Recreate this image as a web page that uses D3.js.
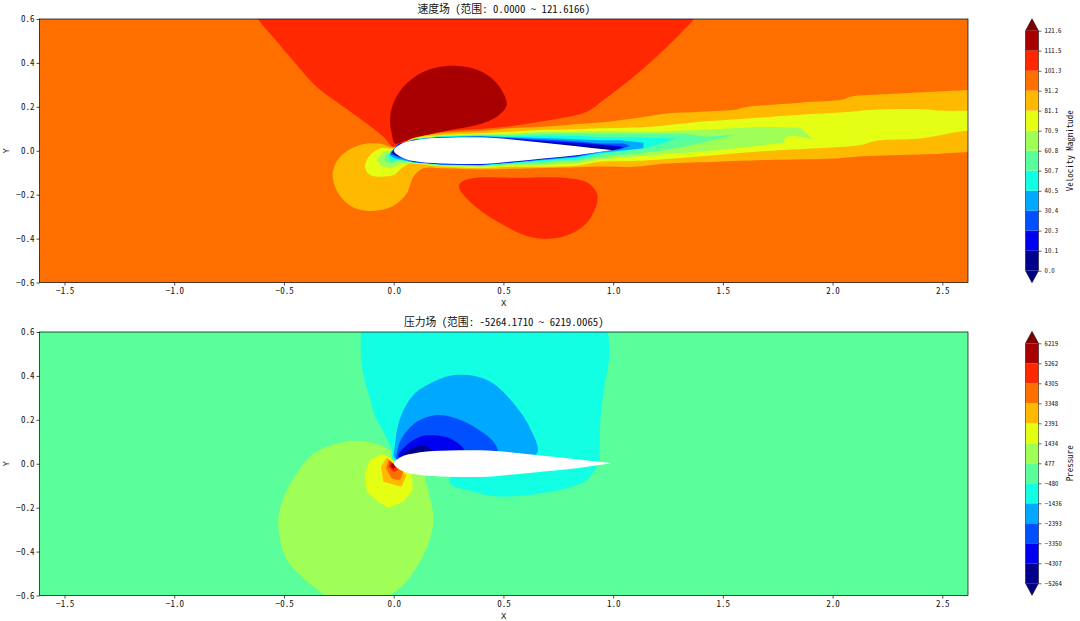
<!DOCTYPE html>
<html>
<head>
<meta charset="utf-8">
<script src="https://cdn.jsdelivr.net/npm/d3@7"></script>
<style>
    body { margin: 0; background: #fff; }
    text { font-family: "Noto Sans Mono CJK SC", "Noto Sans CJK SC", "DejaVu Sans Mono", monospace; fill: #111; }
    .axis-letter { font-family: "Liberation Mono", monospace; }
</style>
</head>
<body>
<svg id="chart-svg" width="1080" height="621"></svg>
<script>
// Band colours, low to high, shared by both fields and their colorbars
const bandColors = ["#00008d", "#0000f1", "#0050ff", "#00a8ff", "#13ffe3", "#5aff9b", "#9fff57", "#e4ff13", "#ffb900", "#ff6f00", "#ff2800", "#a80000"];
const overColor = "#7f0000";
const underColor = "#00007f";

// Axis ticks
const xTicks = [-1.5, -1.0, -0.5, 0.0, 0.5, 1.0, 1.5, 2.0, 2.5];
const yTicks = [-0.6, -0.4, -0.2, 0.0, 0.2, 0.4, 0.6];

// Colorbar levels and their printed labels
const speedLevels = [0.0, 10.1, 20.3, 30.4, 40.5, 50.7, 60.8, 70.9, 81.1, 91.2, 101.3, 111.5, 121.6];
const speedLabels = ["0.0", "10.1", "20.3", "30.4", "40.5", "50.7", "60.8", "70.9", "81.1", "91.2", "101.3", "111.5", "121.6"];
const pressureLevels = [-5264, -4307, -3350, -2393, -1436, -480, 477, 1434, 2391, 3348, 4305, 5262, 6219];
const pressureLabels = ["\u22125264", "\u22124307", "\u22123350", "\u22122393", "\u22121436", "\u2212480", "477", "1434", "2391", "3348", "4305", "5262", "6219"];

// Airfoil outline
const foilX = [0, 0.005, 0.012, 0.029, 0.09, 0.211, 0.3, 0.394, 0.53, 0.683, 0.834, 0.992];
const foilUpper = [0, 0.01, 0.017, 0.029, 0.047, 0.059, 0.0615, 0.061, 0.052, 0.036, 0.021, 0.003];
const foilLower = [0, -0.009, -0.015, -0.026, -0.047, -0.058, -0.06, -0.06, -0.05, -0.035, -0.02, 0.002];

// Velocity field regions in x,y data units
const speedRedTop = [[-0.63, 0.62], [-0.617, 0.598], [-0.564, 0.534], [-0.473, 0.428], [-0.351, 0.291], [-0.229, 0.2], [-0.123, 0.124], [-0.047, 0.064], [0, 0.018], [0.074, 0.06], [0.166, 0.078], [0.257, 0.09], [0.5, 0.108], [0.713, 0.14], [0.88, 0.178], [0.956, 0.231], [1.093, 0.337], [1.245, 0.473], [1.366, 0.598], [1.38, 0.62]];
const speedRedBottom = [[0.298, -0.156], [0.318, -0.137], [0.378, -0.123], [0.561, -0.123], [0.774, -0.123], [0.88, -0.144], [0.926, -0.194], [0.926, -0.24], [0.895, -0.308], [0.85, -0.354], [0.774, -0.391], [0.698, -0.401], [0.606, -0.388], [0.515, -0.346], [0.424, -0.293], [0.348, -0.232], [0.302, -0.179]];
const speedDarkRed = [[0.006, 0.033], [-0.009, 0.079], [-0.017, 0.14], [-0.002, 0.215], [0.044, 0.291], [0.12, 0.352], [0.196, 0.379], [0.272, 0.387], [0.363, 0.375], [0.439, 0.337], [0.492, 0.276], [0.515, 0.208], [0.47, 0.155], [0.378, 0.117], [0.257, 0.094], [0.135, 0.067], [0.044, 0.041]];

const speedAmber = [[0, 0.016], [0.09, 0.058], [0.211, 0.08], [0.394, 0.09], [0.53, 0.103], [0.683, 0.109], [0.834, 0.122], [0.941, 0.129], [1.093, 0.147], [1.245, 0.17], [1.397, 0.178], [1.564, 0.188], [1.594, 0.197], [1.852, 0.219], [2.05, 0.234], [2.08, 0.246], [2.308, 0.261], [2.64, 0.278], [2.9, 0.29],
    [2.9, -0.02], [2.64, -0.005], [2.46, -0.015], [2.156, -0.024], [2.005, -0.035], [1.701, -0.042], [1.473, -0.05], [1.245, -0.058], [1.093, -0.073], [0.941, -0.072], [0.834, -0.075], [0.683, -0.078], [0.53, -0.082], [0.394, -0.085], [0.211, -0.08], [0.135, -0.08],
    [0.09, -0.118], [0.06, -0.194], [0.015, -0.24], [-0.047, -0.268], [-0.123, -0.273], [-0.199, -0.25], [-0.26, -0.18], [-0.278, -0.103], [-0.245, -0.028], [-0.154, 0.026], [-0.06, 0.032]];
const speedYellow = [[0, 0.011], [0.09, 0.056], [0.211, 0.071], [0.394, 0.08], [0.53, 0.087], [0.683, 0.094], [0.834, 0.098], [0.941, 0.102], [1.169, 0.109], [1.397, 0.132], [1.564, 0.143], [1.822, 0.162], [2.08, 0.178], [2.156, 0.185], [2.384, 0.19], [2.506, 0.182], [2.64, 0.182], [2.9, 0.182],
    [2.9, 0.06], [2.64, 0.092], [2.4, 0.056], [2.2, 0.046], [2.126, 0.026], [1.928, 0.011], [1.777, 0.003], [1.549, -0.012], [1.32, -0.032], [1.093, -0.047], [0.941, -0.05], [0.834, -0.068], [0.683, -0.073], [0.53, -0.073], [0.394, -0.079], [0.211, -0.072], [0.12, -0.062],
    [0.074, -0.058], [0.036, -0.08], [0, -0.111], [-0.055, -0.118], [-0.108, -0.111], [-0.131, -0.073], [-0.108, -0.02], [-0.062, 0.011]];
const speedGreen = [[-0.009, 0.003], [0.09, 0.054], [0.211, 0.068], [0.394, 0.075], [0.53, 0.079], [0.683, 0.086], [0.834, 0.088], [0.941, 0.09], [1.169, 0.087], [1.397, 0.094], [1.67, 0.109], [1.852, 0.105], [1.91, 0.052], [1.815, 0.071], [1.78, 0.056], [1.78, 0.038], [1.625, 0.018], [1.397, -0.005], [1.245, -0.015], [1.093, -0.027], [0.941, -0.04], [0.834, -0.058], [0.683, -0.065], [0.53, -0.067], [0.394, -0.074], [0.211, -0.068], [0.09, -0.056],
    [0.036, -0.058], [-0.009, -0.08], [-0.055, -0.073], [-0.078, -0.042], [-0.047, -0.005]];
const speedGreenSliver = [[1.928, 0.056], [2.035, 0.071], [1.997, 0.076]];
const speedMint = [[-0.009, -0.005], [0.09, 0.053], [0.211, 0.066], [0.394, 0.072], [0.53, 0.072], [0.683, 0.078], [0.834, 0.08], [0.941, 0.078], [1.169, 0.079], [1.32, 0.079], [1.427, 0.064], [1.564, 0.074], [1.457, 0.049], [1.32, 0.018], [1.214, 0], [1.093, -0.015], [0.941, -0.028], [0.834, -0.047], [0.683, -0.055], [0.53, -0.062], [0.394, -0.07], [0.211, -0.066], [0.09, -0.054],
    [0.029, -0.046], [-0.009, -0.058], [-0.04, -0.05], [-0.04, -0.02]];
const speedCyan = [[-0.009, -0.005], [0.09, 0.052], [0.211, 0.065], [0.394, 0.069], [0.53, 0.066], [0.683, 0.07], [0.834, 0.068], [0.941, 0.062], [1.093, 0.061], [1.29, 0.056], [1.2, 0.026], [1.138, 0.011], [0.941, -0.016], [0.834, -0.04], [0.683, -0.047], [0.53, -0.059], [0.394, -0.068], [0.211, -0.064], [0.09, -0.053],
    [0.021, -0.04], [-0.009, -0.046], [-0.024, -0.027]];
const speedSky = [[-0.009, -0.005], [0.09, 0.051], [0.211, 0.063], [0.394, 0.067], [0.53, 0.062], [0.683, 0.058], [0.834, 0.052], [0.941, 0.048], [1.03, 0.048], [1.138, 0.036], [1.138, 0.011], [1.03, 0], [0.941, -0.009], [0.834, -0.03], [0.683, -0.042], [0.53, -0.056], [0.394, -0.066], [0.211, -0.063], [0.09, -0.052],
    [0.006, -0.035], [-0.02, -0.02]];
const speedBlue = [[-0.012, -0.006], [0.02, 0.03], [0.09, 0.05], [0.211, 0.062], [0.394, 0.065], [0.53, 0.059], [0.683, 0.051], [0.834, 0.043], [0.941, 0.033], [1.047, 0.033], [1.077, 0.023], [1.03, 0.006], [0.941, -0.005], [0.834, -0.026], [0.683, -0.04], [0.53, -0.054], [0.394, -0.065], [0.211, -0.062], [0.09, -0.051], [0.02, -0.03], [-0.015, -0.015]];
const speedDeepBlue = [[0.025, 0.032], [0.09, 0.049], [0.211, 0.061], [0.394, 0.063], [0.53, 0.056], [0.683, 0.046], [0.834, 0.036], [0.941, 0.028], [1.03, 0.02], [1.05, 0.015], [1.02, 0.008], [0.95, 0], [0.834, -0.024], [0.683, -0.038], [0.53, -0.053], [0.394, -0.064], [0.211, -0.061], [0.09, -0.05], [0.01, -0.022], [-0.008, -0.01]];
const speedNavy = [[0.6, 0.044], [0.683, 0.04], [0.834, 0.027], [0.941, 0.02], [1.04, 0.014], [1.0, 0.003], [0.941, -0.004], [0.834, -0.021], [0.683, -0.036], [0.6, -0.043]];
const speedNavyNose = [[0, 0.003], [-0.008, -0.008], [0.005, -0.018], [0.02, -0.026], [0.012, -0.012]];

// Pressure field regions
const pressureCyan = [[-0.149, 0.75], [-0.149, 0.62], [-0.149, 0.48], [-0.131, 0.373], [-0.108, 0.297], [-0.085, 0.214], [-0.047, 0.146], [-0.009, 0.062], [0, 0.009], [0.257, -0.04], [0.257, -0.09], [0.363, -0.127], [0.47, -0.149], [0.637, -0.14], [0.789, -0.112], [0.88, -0.074], [0.926, -0.014], [0.938, 0.009], [0.938, 0.1], [0.944, 0.222], [0.964, 0.373], [0.983, 0.495], [0.976, 0.62], [0.976, 0.75]];
const pressureSky = [[0.006, 0.024], [0.006, 0.085], [0.029, 0.206], [0.09, 0.313], [0.181, 0.373], [0.257, 0.401], [0.363, 0.401], [0.454, 0.366], [0.546, 0.275], [0.622, 0.161], [0.652, 0.047], [0.3, 0.03]];
const pressureBlue = [[0.014, 0.02], [0.014, 0.047], [0.036, 0.115], [0.105, 0.191], [0.196, 0.222], [0.287, 0.206], [0.378, 0.161], [0.454, 0.1], [0.473, 0.05], [0.3, 0.03]];
const pressureDeepBlue = [[0.021, 0.032], [0.059, 0.085], [0.12, 0.123], [0.181, 0.13], [0.257, 0.115], [0.318, 0.07], [0.318, 0.05], [0.15, 0.04]];
const pressureNavy = [[0.036, 0.036], [0.074, 0.067], [0.135, 0.082], [0.173, 0.062], [0.16, 0.05], [0.08, 0.04]];
const pressureLime = [[0, 0], [-0.017, 0.055], [-0.062, 0.085], [-0.176, 0.105], [-0.305, 0.077], [-0.389, 0.024], [-0.457, -0.067], [-0.503, -0.158], [-0.526, -0.249], [-0.518, -0.34], [-0.495, -0.423], [-0.427, -0.507], [-0.321, -0.595], [-0.28, -0.63], [-0.02, -0.63], [-0.009, -0.598], [0.044, -0.552], [0.12, -0.446], [0.166, -0.34], [0.181, -0.249], [0.166, -0.158], [0.143, -0.067], [0.135, -0.036]];
const pressureYellow = [[-0.02, 0.03], [-0.055, 0.044], [-0.108, 0.017], [-0.131, -0.044], [-0.123, -0.127], [-0.07, -0.173], [-0.024, -0.2], [0.044, -0.173], [0.087, -0.12], [0.082, -0.044], [0.044, -0.02]];
const pressureAmber = [[-0.032, 0.029], [-0.058, -0.014], [-0.047, -0.082], [0.036, -0.105], [0.059, -0.052], [0.029, -0.03], [0, 0]];
const pressureOrange = [[-0.024, 0.02], [-0.035, -0.021], [-0.009, -0.067], [0.029, -0.074], [0.044, -0.036], [0.014, -0.02], [0, 0]];
const pressureRed = [[-0.017, 0.012], [-0.024, -0.014], [-0.002, -0.036], [0.021, -0.029], [0.01, -0.012], [0, 0]];
const pressureDarkRed = [[-0.009, 0.002], [-0.014, -0.012], [-0.002, -0.024], [0.01, -0.014], [0, 0]];

// Panels: paint order is outermost region first
const speedPanel = {
    title: "速度场 (范围: 0.0000 ~ 121.6166)",
    label: "Velocity Magnitude",
    levels: speedLevels,
    labels: speedLabels,
    background: 9,
    regions: [
        [speedRedTop, 10, true], [speedRedBottom, 10, true], [speedDarkRed, 11, true],
        [speedAmber, 8, true], [speedYellow, 7, true], [speedGreen, 6, false], [speedGreenSliver, 7, false],
        [speedMint, 5, false], [speedCyan, 4, false], [speedSky, 3, false], [speedBlue, 2, false],
        [speedDeepBlue, 1, false], [speedNavy, 0, false], [speedNavyNose, 0, false]
    ]
};
const pressurePanel = {
    title: "压力场 (范围: -5264.1710 ~ 6219.0065)",
    label: "Pressure",
    levels: pressureLevels,
    labels: pressureLabels,
    background: 5,
    regions: [
        [pressureCyan, 4, true], [pressureSky, 3, true], [pressureBlue, 2, true], [pressureDeepBlue, 1, true], [pressureNavy, 0, true],
        [pressureLime, 6, true], [pressureYellow, 7, false], [pressureAmber, 8, false], [pressureOrange, 9, false], [pressureRed, 10, false], [pressureDarkRed, 11, false]
    ]
};

const svg = d3.select("#chart-svg");

const plot = { left: 39.5, right: 968 };
const xScale = d3.scaleLinear().domain([-1.614, 2.617]).range([plot.left, plot.right]);

const drawPanel = (panel, top, bottom, barTop, barBottom, clipId) => {

    const yScale = d3.scaleLinear().domain([-0.6, 0.6]).range([bottom, top]);

    const g = svg.append("g");

    g.append("clipPath").attr("id", clipId)
        .append("rect")
        .attr("x", plot.left)
        .attr("y", top)
        .attr("width", plot.right - plot.left)
        .attr("height", bottom - top);

    // Background band
    g.append("rect")
        .attr("x", plot.left)
        .attr("y", top)
        .attr("width", plot.right - plot.left)
        .attr("height", bottom - top)
        .attr("fill", bandColors[panel.background]);

    const field = g.append("g").attr("clip-path", "url(#" + clipId + ")");

    const straight = d3.line().x(d => xScale(d[0])).y(d => yScale(d[1])).curve(d3.curveLinearClosed);
    const smooth = d3.line().x(d => xScale(d[0])).y(d => yScale(d[1])).curve(d3.curveCatmullRomClosed.alpha(0.5));

    panel.regions.forEach(([points, band, isSmooth]) => {
        field.append("path")
            .attr("d", isSmooth ? smooth(points) : straight(points))
            .attr("fill", bandColors[band]);
    });

    // Airfoil cut-out
    const foil = d3.area()
        .x(d => xScale(foilX[d]))
        .y0(d => yScale(foilUpper[d]))
        .y1(d => yScale(foilLower[d]))
        .curve(d3.curveMonotoneX);
    field.append("path")
        .attr("d", foil(d3.range(foilX.length)))
        .attr("fill", "#fff");

    // Frame
    g.append("rect")
        .attr("x", plot.left)
        .attr("y", top)
        .attr("width", plot.right - plot.left)
        .attr("height", bottom - top)
        .attr("fill", "none")
        .attr("stroke", "#000")
        .attr("stroke-width", 0.7);

    // Axes
    g.append("g")
        .attr("transform", "translate(0," + bottom + ")")
        .call(d3.axisBottom(xScale).tickValues(xTicks).tickSize(3).tickPadding(2).tickFormat(d3.format(".1f")))
        .call(a => a.select(".domain").remove())
        .selectAll("text").attr("font-size", 9);
    g.append("g")
        .attr("transform", "translate(" + plot.left + ",0)")
        .call(d3.axisLeft(yScale).tickValues(yTicks).tickSize(3).tickPadding(2).tickFormat(d3.format(".1f")))
        .call(a => a.select(".domain").remove())
        .selectAll("text").attr("font-size", 9);

    g.selectAll(".tick line").attr("stroke-width", 0.7);

    g.append("text")
        .attr("x", (plot.left + plot.right) / 2)
        .attr("y", top - 6)
        .attr("text-anchor", "middle")
        .attr("font-size", 10.8)
        .text(panel.title);
    g.append("text")
        .attr("class", "axis-letter")
        .attr("x", (plot.left + plot.right) / 2)
        .attr("y", bottom + 23)
        .attr("text-anchor", "middle")
        .attr("font-size", 9)
        .text("X");
    g.append("text")
        .attr("class", "axis-letter")
        .attr("transform", "translate(8.5," + ((top + bottom) / 2) + ") rotate(-90)")
        .attr("text-anchor", "middle")
        .attr("font-size", 9)
        .text("Y");

    // Colorbar
    const bar = { left: 1025.5, right: 1038.5 };
    const barScale = d3.scaleLinear()
        .domain([panel.levels[0], panel.levels[panel.levels.length - 1]])
        .range([barBottom, barTop]);
    const cap = 12;

    g.selectAll(".band")
        .data(d3.range(panel.levels.length - 1))
        .join("rect")
        .attr("x", bar.left)
        .attr("y", d => barScale(panel.levels[d + 1]))
        .attr("width", bar.right - bar.left)
        .attr("height", d => barScale(panel.levels[d]) - barScale(panel.levels[d + 1]))
        .attr("fill", d => bandColors[d]);

    const mid = (bar.left + bar.right) / 2;
    g.append("path")
        .attr("d", "M" + bar.left + "," + barTop + "L" + mid + "," + (barTop - cap) + "L" + bar.right + "," + barTop + "Z")
        .attr("fill", overColor);
    g.append("path")
        .attr("d", "M" + bar.left + "," + barBottom + "L" + mid + "," + (barBottom + cap) + "L" + bar.right + "," + barBottom + "Z")
        .attr("fill", underColor);
    g.append("path")
        .attr("d", "M" + bar.left + "," + barTop + "L" + mid + "," + (barTop - cap) + "L" + bar.right + "," + barTop
            + "L" + bar.right + "," + barBottom + "L" + mid + "," + (barBottom + cap) + "L" + bar.left + "," + barBottom + "Z")
        .attr("fill", "none")
        .attr("stroke", "#000")
        .attr("stroke-width", 0.5);

    const barAxis = g.append("g")
        .attr("transform", "translate(" + bar.right + ",0)")
        .call(d3.axisRight(barScale)
            .tickValues(panel.levels)
            .tickSize(3)
            .tickPadding(3)
            .tickFormat((d, i) => panel.labels[i]));
    barAxis.select(".domain").remove();
    barAxis.selectAll("text").attr("font-size", 6.8);
    barAxis.selectAll(".tick line").attr("stroke-width", 0.6);

    g.append("text")
        .attr("transform", "translate(1073," + ((barTop + barBottom) / 2) + ") rotate(-90)")
        .attr("text-anchor", "middle")
        .attr("font-size", 9)
        .text(panel.label);
};

drawPanel(speedPanel, 19, 282.5, 30.7, 270.7, "clip-speed");
drawPanel(pressurePanel, 332, 595.5, 343.3, 583.3, "clip-pressure");
</script>
</body>
</html>
